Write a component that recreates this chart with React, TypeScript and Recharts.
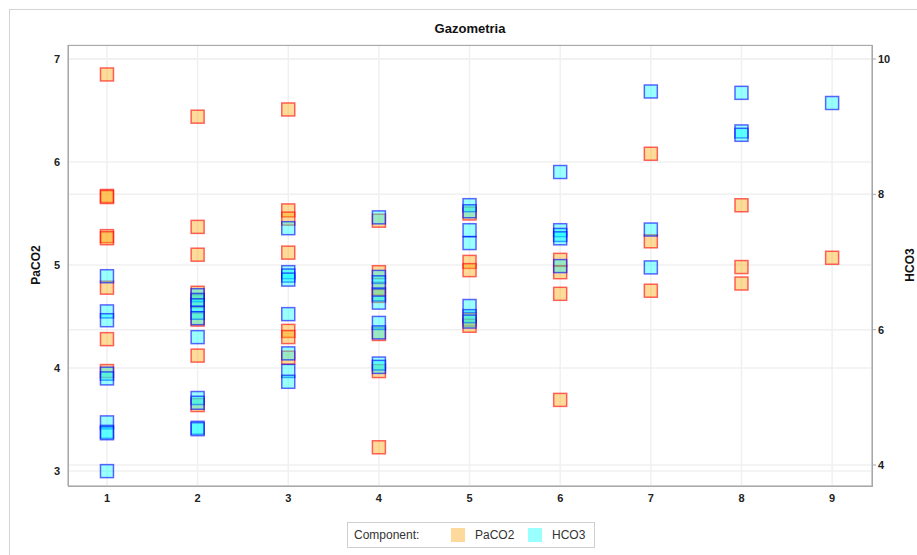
import React from "react";
import { ScatterChart, Scatter, XAxis, YAxis, CartesianGrid } from "recharts";

const categories = [1, 2, 3, 4, 5, 6, 7, 8, 9];

const paco2Values: number[][] = [
  [6.85, 5.67, 5.66, 5.28, 5.26, 4.78, 4.28, 3.97],
  [6.44, 5.37, 5.1, 4.73, 4.65, 4.47, 4.12, 3.64],
  [6.51, 5.53, 5.45, 5.12, 4.36, 4.3, 4.1],
  [5.43, 4.93, 4.77, 4.7, 4.33, 3.97, 3.23],
  [5.5, 5.03, 4.95, 4.47, 4.41],
  [5.05, 4.93, 4.72, 3.69],
  [6.08, 5.23, 4.75],
  [5.58, 4.98, 4.82],
  [5.07],
];

const hco3Values: number[][] = [
  [6.79, 6.27, 6.14, 5.35, 5.28, 4.63, 4.49, 4.47, 3.91],
  [6.51, 6.44, 6.36, 6.25, 6.17, 5.89, 4.99, 4.92, 4.55, 4.53],
  [7.5, 6.85, 6.8, 6.74, 6.23, 5.65, 5.39, 5.23],
  [7.66, 6.78, 6.7, 6.52, 6.4, 6.1, 5.96, 5.5, 5.45],
  [7.84, 7.75, 7.47, 7.28, 6.35, 6.2, 6.12],
  [8.33, 7.47, 7.4, 7.35, 6.94],
  [9.52, 7.48, 6.92],
  [9.5, 8.93, 8.88],
  [9.35],
];

const leftTicks = [3, 4, 5, 6, 7];
const rightTicks = [4, 6, 8, 10];

const paco2Data = categories.flatMap((c, i) => paco2Values[i].map((v) => ({ x: c, y: v })));
const hco3Data = categories.flatMap((c, i) => hco3Values[i].map((v) => ({ x: c, y: v })));

const FONT = "'Liberation Sans', Arial, sans-serif";

const makeSquare = (fill: string, stroke: string) => (props: any) => {
  const { cx, cy } = props;
  if (cx == null || cy == null) return <g />;
  return (
    <rect
      x={cx - 6.5}
      y={cy - 6.5}
      width={13}
      height={13}
      fill={fill}
      fillOpacity={0.4}
      stroke={stroke}
      strokeOpacity={0.6}
      strokeWidth={1.5}
    />
  );
};

const tickStyle = { fontSize: 11, fontWeight: 700, fill: "#222", fontFamily: FONT };

export default function App() {
  return (
    <div style={{ position: "absolute", left: 0, top: 0, width: 917, height: 555, background: "#fff", overflow: "hidden", fontFamily: FONT }}>
      <div style={{ position: "absolute", left: 9, top: 9, width: 930, height: 580, border: "1px solid #d4d4d4" }} />
      <div style={{ position: "absolute", left: 68, width: 804, top: 21, textAlign: "center", fontSize: 13, fontWeight: 700, color: "#111" }}>
        Gazometria
      </div>
      <div style={{ position: "absolute", left: 0, top: 0 }}>
        <ScatterChart width={917} height={555} margin={{ top: 45, right: 0, bottom: 0, left: 0 }}>
          <CartesianGrid yAxisId="left" xAxisId="x" stroke="#f0f0f0" strokeWidth={1.5} vertical={true} horizontal={true} />
          <CartesianGrid yAxisId="right" xAxisId="x" stroke="#f0f0f0" strokeWidth={1.5} vertical={false} horizontal={true} />
          <XAxis
            xAxisId="x"
            type="number"
            dataKey="x"
            domain={[0.57, 9.44]}
            ticks={categories}
            allowDataOverflow
            height={69}
            tick={tickStyle}
            tickLine={false}
            axisLine={{ stroke: "#a8a8a8" }}
          />
          <YAxis
            yAxisId="left"
            type="number"
            dataKey="y"
            domain={[2.854, 7.136]}
            ticks={leftTicks}
            allowDataOverflow
            width={68}
            tick={tickStyle}
            tickLine={false}
            axisLine={{ stroke: "#a8a8a8" }}
          />
          <YAxis
            yAxisId="right"
            orientation="right"
            type="number"
            dataKey="y"
            domain={[3.69, 10.207]}
            ticks={rightTicks}
            allowDataOverflow
            width={45}
            tick={tickStyle}
            tickSize={4}
            tickLine={{ stroke: "#a8a8a8" }}
            axisLine={{ stroke: "#a8a8a8" }}
          />
          <Scatter
            name="PaCO2"
            data={paco2Data}
            xAxisId="x"
            yAxisId="left"
            isAnimationActive={false}
            shape={makeSquare("#FFA500", "#FF0000")}
          />
          <Scatter
            name="HCO3"
            data={hco3Data}
            xAxisId="x"
            yAxisId="right"
            isAnimationActive={false}
            shape={makeSquare("#00FFFF", "#0000FF")}
          />
        </ScatterChart>
      </div>
      <div style={{ position: "absolute", left: 68, top: 45, width: 803, height: 440, border: "1px solid #a8a8a8", pointerEvents: "none" }} />
      <div style={{ position: "absolute", left: 36, top: 265, transform: "translate(-50%, -50%) rotate(-90deg)", fontSize: 12, fontWeight: 700, color: "#111", whiteSpace: "nowrap" }}>
        PaCO2
      </div>
      <div style={{ position: "absolute", left: 910, top: 265, transform: "translate(-50%, -50%) rotate(-90deg)", fontSize: 12, fontWeight: 700, color: "#111", whiteSpace: "nowrap" }}>
        HCO3
      </div>
      <div style={{ position: "absolute", left: 347, top: 522, width: 246, height: 24, border: "1px solid #cfcfcf", fontSize: 12, color: "#333" }}>
        <span style={{ position: "absolute", left: 6, top: 5 }}>Component:</span>
        <span style={{ position: "absolute", left: 103, top: 5, width: 14, height: 14, background: "#FDD99B" }} />
        <span style={{ position: "absolute", left: 127, top: 5 }}>PaCO2</span>
        <span style={{ position: "absolute", left: 180, top: 5, width: 14, height: 14, background: "#99FFFF" }} />
        <span style={{ position: "absolute", left: 204, top: 5 }}>HCO3</span>
      </div>
    </div>
  );
}
